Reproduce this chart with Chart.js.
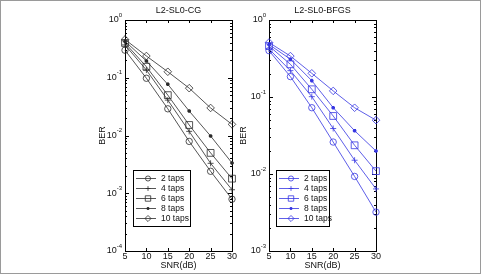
<!DOCTYPE html>
<html>
<head>
<meta charset="utf-8">
<script src="https://cdn.jsdelivr.net/npm/chart.js@4.4.0/dist/chart.umd.min.js"></script>
<style>
  html, body { margin: 0; padding: 0; background: #fff; }
  #frame { position: relative; width: 481px; height: 274px; overflow: hidden; background: #fff; }
  #border { position: absolute; left: 0; top: 0; width: 481px; height: 274px; box-sizing: border-box; border: 1px solid #9a9a9a; pointer-events: none; }
  .plot { position: absolute; top: 0; }
</style>
</head>
<body>
<div id="frame">
  <div class="plot" style="left:0"><canvas id="cg" width="240" height="274"></canvas></div>
  <div class="plot" style="left:240px"><canvas id="bfgs" width="241" height="274"></canvas></div>
  <div id="border"></div>
</div>
<script>
// data
const snr = [5, 10, 15, 20, 25, 30];
const tapLabels = ['2 taps', '4 taps', '6 taps', '8 taps', '10 taps'];
const xTicks = [5, 10, 15, 20, 25, 30];

const cg2 = [0.30, 0.098, 0.029, 0.0079, 0.0024, 0.00079];
const cg4 = [0.37, 0.136, 0.041, 0.0118, 0.0033, 0.00115];
const cg6 = [0.40, 0.155, 0.050, 0.0152, 0.0050, 0.00179];
const cg8 = [0.43, 0.195, 0.077, 0.0265, 0.0098, 0.00334];
const cg10 = [0.46, 0.238, 0.127, 0.066, 0.030, 0.0156];

const bfgs2 = [0.40, 0.184, 0.0726, 0.026, 0.0093, 0.0032];
const bfgs4 = [0.42, 0.22, 0.101, 0.039, 0.0151, 0.0064];
const bfgs6 = [0.46, 0.266, 0.126, 0.0567, 0.0236, 0.0109];
const bfgs8 = [0.48, 0.31, 0.163, 0.0726, 0.0365, 0.0199];
const bfgs10 = [0.51, 0.34, 0.203, 0.12, 0.0725, 0.050];

const markers = ['circle', 'cross', 'rect', 'star', 'rectRot'];
const markerSize = [3.2, 3, 4.8, 1.8, 3.8];
const FONT = '"Liberation Sans", Arial, Helvetica, sans-serif';

function makeSets(series, color) {
    return series.map((vals, i) => ({
        label: tapLabels[i],
        data: snr.map((x, j) => ({ x: x, y: vals[j] })),
        borderColor: color,
        backgroundColor: color,
        borderWidth: 0.8,
        pointStyle: markers[i],
        pointRadius: markerSize[i],
        pointBorderWidth: i === 3 ? 1.4 : 0.8,
        pointBackgroundColor: i === 3 ? color : 'rgba(0,0,0,0)',
        pointBorderColor: color,
        clip: false,
        tension: 0,
    }));
}

// axes, ticks, labels and legend drawn MATLAB style
const matlabAxes = {
    id: 'matlabAxes',
    beforeDatasetsDraw(chart, args, opts) {
        const ctx = chart.ctx;
        const a = chart.chartArea;
        const xs = chart.scales.x;
        const ys = chart.scales.y;
        ctx.save();
        ctx.strokeStyle = '#000';
        ctx.lineWidth = 1;
        ctx.strokeRect(Math.round(a.left) + 0.5, Math.round(a.top) + 0.5,
            Math.round(a.right - a.left), Math.round(a.bottom - a.top));

        ctx.beginPath();
        xTicks.forEach((t) => {
            const px = Math.round(xs.getPixelForValue(t)) + 0.5;
            ctx.moveTo(px, a.bottom); ctx.lineTo(px, a.bottom - 3);
            ctx.moveTo(px, a.top); ctx.lineTo(px, a.top + 3);
        });
        for (let e = opts.minExp; e <= opts.maxExp; e++) {
            for (let k = 1; k <= 9; k++) {
                if (e === opts.maxExp && k > 1) break;
                const v = k * Math.pow(10, e);
                const py = Math.round(ys.getPixelForValue(v)) + 0.5;
                const len = k === 1 ? 4 : 2;
                ctx.moveTo(a.left, py); ctx.lineTo(a.left + len, py);
                ctx.moveTo(a.right, py); ctx.lineTo(a.right - len, py);
            }
        }
        ctx.stroke();

        ctx.fillStyle = '#111';
        ctx.font = '9px ' + FONT;
        ctx.textAlign = 'center';
        ctx.textBaseline = 'middle';
        xTicks.forEach((t) => {
            ctx.fillText(String(t), xs.getPixelForValue(t), a.bottom + 6);
        });

        for (let e = opts.minExp; e <= opts.maxExp; e++) {
            const py = ys.getPixelForValue(Math.pow(10, e));
            const sup = String(e);
            ctx.font = '6px ' + FONT;
            const sw = ctx.measureText(sup).width;
            ctx.textAlign = 'right';
            ctx.fillText(sup, a.left - 3, py - 5);
            ctx.font = '9px ' + FONT;
            ctx.fillText('10', a.left - 3 - sw, py);
        }

        ctx.font = '9px ' + FONT;
        ctx.textAlign = 'center';
        ctx.fillText(opts.title, (a.left + a.right) / 2, 11);
        ctx.fillText('SNR(dB)', (a.left + a.right) / 2, 266);

        ctx.save();
        ctx.translate(opts.yLabelX, (a.top + a.bottom) / 2);
        ctx.rotate(-Math.PI / 2);
        ctx.fillText('BER', 0, 0);
        ctx.restore();
        ctx.restore();
    },
    afterDatasetsDraw(chart, args, opts) {
        const ctx = chart.ctx;
        const L = opts.legend;
        ctx.save();
        ctx.fillStyle = '#fff';
        ctx.fillRect(L.x, L.y, L.w, L.h);
        ctx.strokeStyle = '#000';
        ctx.lineWidth = 1;
        ctx.strokeRect(L.x + 0.5, L.y + 0.5, L.w, L.h);
        chart.data.datasets.forEach((ds, i) => {
            const y = L.y + 8.5 + i * 10;
            ctx.strokeStyle = ds.borderColor;
            ctx.lineWidth = 0.8;
            ctx.beginPath();
            ctx.moveTo(L.x + 3, y);
            ctx.lineTo(L.x + 23, y);
            ctx.stroke();
            ctx.fillStyle = ds.pointBackgroundColor;
            ctx.lineWidth = ds.pointBorderWidth;
            Chart.helpers.drawPoint(ctx, {
                pointStyle: ds.pointStyle, radius: ds.pointRadius * 0.8,
                rotation: 0, borderWidth: ds.pointBorderWidth,
            }, L.x + 15, y);
            ctx.fillStyle = '#111';
            ctx.font = '8.5px ' + FONT;
            ctx.textAlign = 'left';
            ctx.textBaseline = 'middle';
            ctx.fillText(ds.label, L.x + 28, y);
        });
        ctx.restore();
    },
};

function buildChart(id, sets, color, pad, yMin, yMax, title, yLabelX, legend) {
    return new Chart(document.getElementById(id), {
        type: 'line',
        data: { datasets: makeSets(sets, color) },
        options: {
            responsive: false,
            animation: false,
            events: [],
            layout: { padding: pad },
            scales: {
                x: { type: 'linear', min: 5, max: 30, display: false },
                y: { type: 'logarithmic', min: Math.pow(10, yMin), max: Math.pow(10, yMax), display: false },
            },
            plugins: {
                legend: { display: false },
                tooltip: { enabled: false },
                matlabAxes: { minExp: yMin, maxExp: yMax, title: title, yLabelX: yLabelX, legend: legend },
            },
        },
        plugins: [matlabAxes],
    });
}

buildChart('cg', [cg2, cg4, cg6, cg8, cg10], '#2a2a2a',
    { left: 125, right: 8, top: 20, bottom: 23 }, -4, 0, 'L2-SL0-CG', 103,
    { x: 133, y: 170, w: 57, h: 56 });

buildChart('bfgs', [bfgs2, bfgs4, bfgs6, bfgs8, bfgs10], '#3535e2',
    { left: 29, right: 105, top: 20, bottom: 23 }, -3, 0, 'L2-SL0-BFGS', 4,
    { x: 36, y: 170, w: 53, h: 56 });
</script>
</body>
</html>
